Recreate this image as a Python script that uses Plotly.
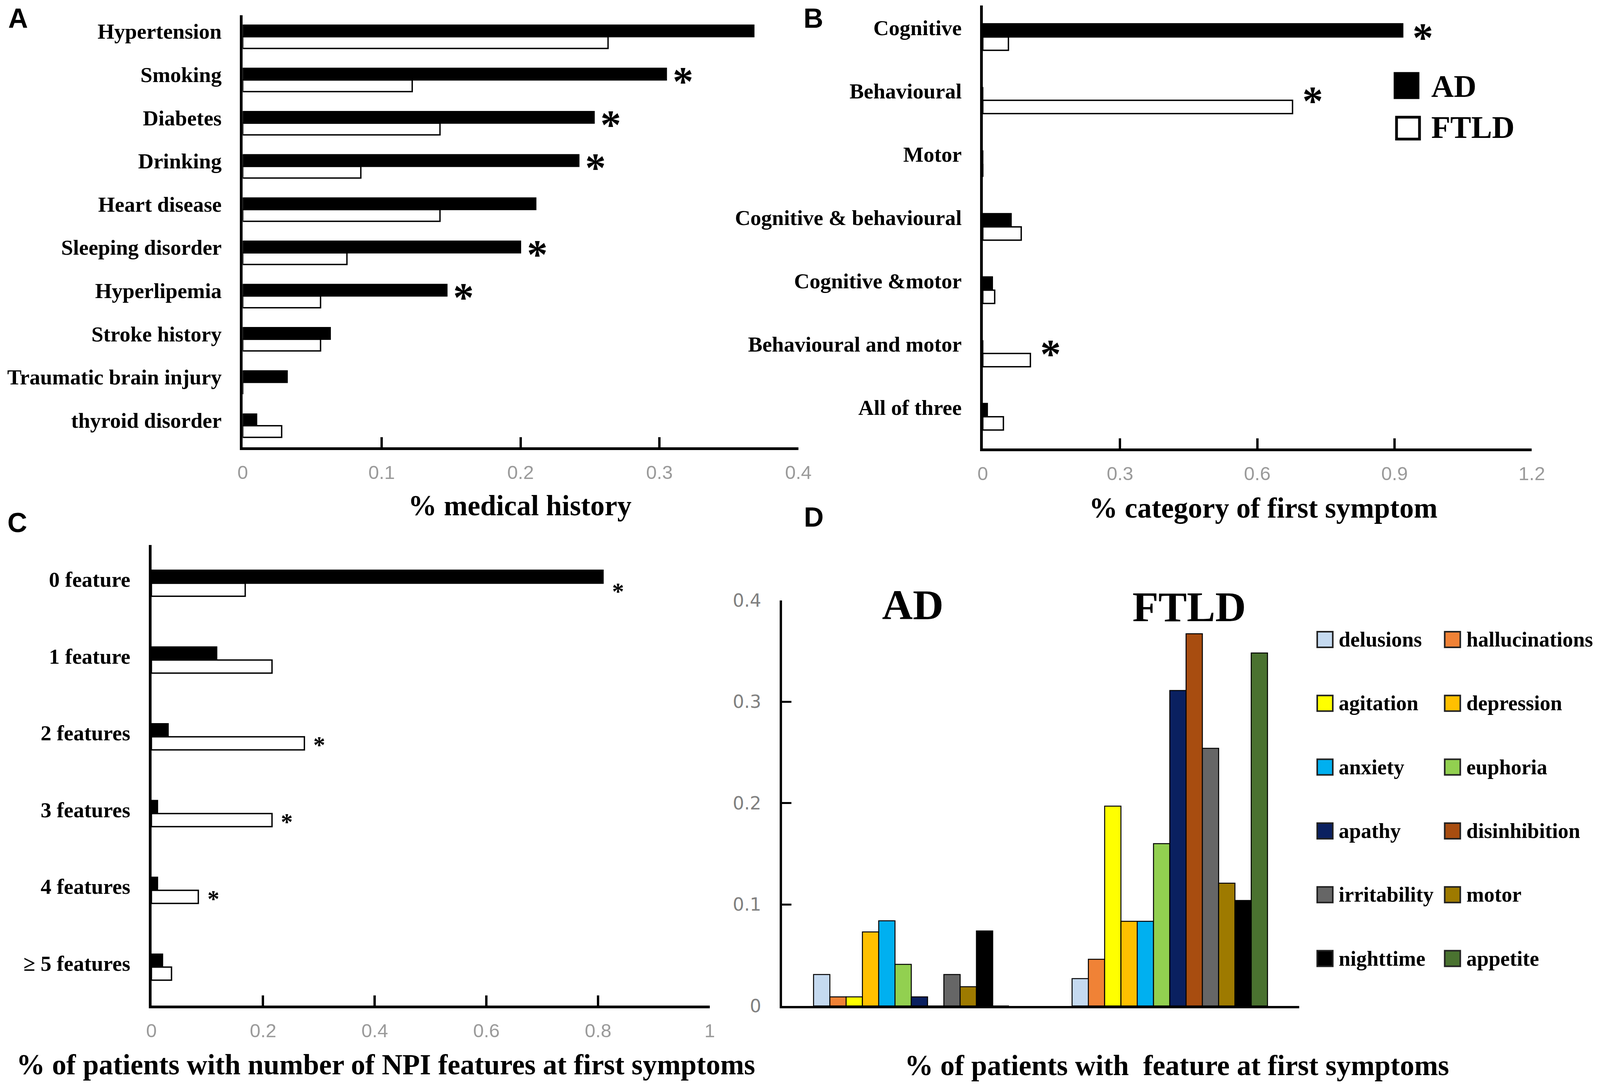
import plotly.graph_objects as go

# --- Data ---
A_CATS = ['Hypertension', 'Smoking', 'Diabetes', 'Drinking', 'Heart disease',
          'Sleeping disorder', 'Hyperlipemia', 'Stroke history',
          'Traumatic brain injury', 'thyroid disorder']
A_AD = [0.368, 0.305, 0.253, 0.242, 0.211, 0.200, 0.147, 0.063, 0.032, 0.010]
A_FTLD = [0.263, 0.122, 0.142, 0.085, 0.142, 0.075, 0.056, 0.056, 0.0, 0.028]
A_SIG = [('Smoking', 'AD'), ('Diabetes', 'AD'), ('Drinking', 'AD'),
         ('Sleeping disorder', 'AD'), ('Hyperlipemia', 'AD')]
A_TICKS = [0, 0.1, 0.2, 0.3, 0.4]

B_CATS = ['Cognitive', 'Behavioural', 'Motor', 'Cognitive & behavioural',
          'Cognitive &motor', 'Behavioural and motor', 'All of three']
B_AD = [0.918, 0.0, 0.0, 0.062, 0.021, 0.0, 0.010]
B_FTLD = [0.056, 0.677, 0.0, 0.084, 0.026, 0.104, 0.045]
B_SIG = [('Cognitive', 'AD'), ('Behavioural', 'FTLD'), ('Behavioural and motor', 'FTLD')]
B_TICKS = [0, 0.3, 0.6, 0.9, 1.2]

C_CATS = ['0 feature', '1 feature', '2 features', '3 features', '4 features', '≥ 5 features']
C_AD = [0.809, 0.117, 0.030, 0.011, 0.011, 0.020]
C_FTLD = [0.168, 0.216, 0.274, 0.216, 0.084, 0.036]
C_SIG = [('0 feature', 'AD'), ('2 features', 'FTLD'), ('3 features', 'FTLD'), ('4 features', 'FTLD')]
C_TICKS = [0, 0.2, 0.4, 0.6, 0.8, 1]

D_GROUPS = ['AD', 'FTLD']
D_SYMPTOMS = ['delusions', 'hallucinations', 'agitation', 'depression', 'anxiety', 'euphoria',
              'apathy', 'disinhibition', 'irritability', 'motor', 'nighttime', 'appetite']
D_AD = [0.031, 0.009, 0.009, 0.073, 0.084, 0.041, 0.009, 0.0, 0.031, 0.019, 0.074, 0.0]
D_FTLD = [0.027, 0.046, 0.197, 0.0835, 0.0835, 0.160, 0.311, 0.367, 0.254, 0.121, 0.104, 0.348]
D_COLORS = ['#C5DAF0', '#F08236', '#FFFF00', '#FFC000', '#00B0F0', '#92D050',
            '#0A2060', '#A84D10', '#666666', '#9E7A00', '#000000', '#4A7230']
D_TICKS = [0, 0.1, 0.2, 0.3, 0.4]

# --- Page geometry ---
# the browser viewport is 4096 px wide, so the layout (measured on the 4317 px
# reference) is squeezed horizontally; the page body keeps its 8 px margin
REF_W = 4317
VIEW_W = 4096
SX = VIEW_W / REF_W
OFF = 8
FW, FH = 4076, 2762
FS = 0.95  # font scale so text widths follow the squeeze

SERIF = 'Liberation Serif, Times New Roman, serif'
SANS = 'Liberation Sans, Arial, sans-serif'
TICK_GRAY = '#9a9a9a'


def px(x):
    return (x * SX - OFF) / FW


def py(y):
    return 1 - (y - OFF) / FH


def fs(size):
    return round(size * FS)


fig = go.Figure()


def add_pair(cats, ad, ftld, xa, ya, bw):
    fig.add_trace(go.Bar(x=ad, y=cats, orientation='h', name='AD', xaxis=xa, yaxis=ya,
                         marker=dict(color='black', line=dict(color='black', width=3)),
                         width=bw, offset=-bw, showlegend=False))
    fig.add_trace(go.Bar(x=ftld, y=cats, orientation='h', name='FTLD', xaxis=xa, yaxis=ya,
                         marker=dict(color='white', line=dict(color='black', width=3.5)),
                         width=bw, offset=0, showlegend=False))


add_pair(A_CATS, A_AD, A_FTLD, 'x', 'y', 0.27)
add_pair(B_CATS, B_AD, B_FTLD, 'x2', 'y2', 0.21)
add_pair(C_CATS, C_AD, C_FTLD, 'x3', 'y3', 0.17)

for name, a, f, col in zip(D_SYMPTOMS, D_AD, D_FTLD, D_COLORS):
    fig.add_trace(go.Bar(x=D_GROUPS, y=[a, f], name=name, xaxis='x4', yaxis='y4',
                         marker=dict(color=col, line=dict(color='black', width=2.5)),
                         showlegend=False))

annotations = []


def add_stars(sig, cats, ad, ftld, xref, yref, size, xshift, yshift):
    for cat, grp in sig:
        i = cats.index(cat)
        val = ad[i] if grp == 'AD' else ftld[i]
        annotations.append(dict(x=val, y=cat, xref=xref, yref=yref, text='*', showarrow=False,
                                xanchor='left', yanchor='middle', xshift=xshift * SX,
                                yshift=yshift,
                                font=dict(family=SERIF, size=fs(size), color='black',
                                          weight='bold')))


add_stars(A_SIG, A_CATS, A_AD, A_FTLD, 'x', 'y', 112, 15, -4)
add_stars(B_SIG, B_CATS, B_AD, B_FTLD, 'x2', 'y2', 112, 24, -2)
add_stars(C_SIG, C_CATS, C_AD, C_FTLD, 'x3', 'y3', 64, 22, -21)

# panel letters
for letter, (lx, ly) in zip('ABCD', [(49, 47), (2195, 47), (47, 1338), (2196, 1324)]):
    annotations.append(dict(x=px(lx), y=py(ly), xref='paper', yref='paper', text=letter,
                            showarrow=False, xanchor='center', yanchor='middle',
                            font=dict(family=SANS, size=fs(74), color='black', weight='bold')))

# axis titles
titles = [('% medical history', 1403, 1294),
          ('% category of first symptom', 3408, 1300),
          ('% of patients with number of NPI features at first symptoms', 1041, 2725),
          ('% of patients with\u00a0 feature at first symptoms', 3176, 2727)]
for txt, tx, ty in titles:
    annotations.append(dict(x=px(tx), y=py(ty), xref='paper', yref='paper', text=txt,
                            showarrow=False, xanchor='center', yanchor='middle',
                            font=dict(family=SERIF, size=fs(77), color='black', weight='bold')))

# group labels in D
for txt, tx, ty in [('AD', 2463, 1548), ('FTLD', 3209, 1553)]:
    annotations.append(dict(x=px(tx), y=py(ty), xref='paper', yref='paper', text=txt,
                            showarrow=False, xanchor='center', yanchor='middle',
                            font=dict(family=SERIF, size=fs(115), color='black', weight='bold')))

shapes = []

# legend of panel B
for txt, fill, (x0, y0, x1, y1), ty in [('AD', 'black', (3764, 188, 3826, 250), 221),
                                        ('FTLD', 'white', (3768, 300, 3830, 356), 326)]:
    shapes.append(dict(type='rect', xref='paper', yref='paper', x0=px(x0), x1=px(x1),
                       y0=py(y1), y1=py(y0), fillcolor=fill, line=dict(color='black', width=7)))
    annotations.append(dict(x=px(3860), y=py(ty), xref='paper', yref='paper', text=txt,
                            showarrow=False, xanchor='left', yanchor='middle',
                            font=dict(family=SERIF, size=fs(84), color='black', weight='bold')))

# legend of panel D (two columns, row-wise order)
LEG_COL_X = [3554, 3898]
LEG_ROW_Y0, LEG_ROW_STEP = 1637, 163.3
for k, (name, col) in enumerate(zip(D_SYMPTOMS, D_COLORS)):
    cx = LEG_COL_X[k % 2]
    cy = LEG_ROW_Y0 + (k // 2) * LEG_ROW_STEP
    shapes.append(dict(type='rect', xref='paper', yref='paper', x0=px(cx), x1=px(cx + 42),
                       y0=py(cy + 20), y1=py(cy - 20), fillcolor=col,
                       line=dict(color='#222222', width=4)))
    annotations.append(dict(x=px(cx + 56), y=py(cy), xref='paper', yref='paper', text=name,
                            showarrow=False, xanchor='left', yanchor='middle',
                            font=dict(family=SERIF, size=fs(57), color='black', weight='bold')))


def value_axis(x0, x1, anchor, rng, ticks):
    return dict(domain=[px(x0), px(x1)], anchor=anchor, range=rng, tickvals=ticks,
                showline=True, linecolor='black', linewidth=7, ticks='inside',
                ticklen=26, tickwidth=6, tickcolor='black', showgrid=False, zeroline=False,
                tickfont=dict(family=SANS, size=fs(52), color=TICK_GRAY), ticklabelstandoff=15)


def cat_axis(y_bottom, y_top, anchor, cats, shift):
    return dict(domain=[py(y_bottom), py(y_top)], anchor=anchor, type='category',
                categoryorder='array', categoryarray=cats, range=[len(cats) - 0.5, -0.5],
                showline=True, linecolor='black', linewidth=7, ticks='', showgrid=False,
                zeroline=False, ticklabelstandoff=round(38 * SX), ticklabelshift=shift,
                tickfont=dict(family=SERIF, size=fs(58), color='black', weight='bold'))


fig.update_layout(
    width=FW, height=FH,
    margin=dict(l=0, r=0, t=0, b=0, autoexpand=False),
    paper_bgcolor='white', plot_bgcolor='white',
    barmode='group', bargap=0.244, bargroupgap=0,
    showlegend=False,
    xaxis=value_axis(655, 2154, 'y', [0, 0.4], A_TICKS),
    yaxis=cat_axis(1145, 38.7, 'x', A_CATS, 14),
    xaxis2=value_axis(2651.7, 4133, 'y2', [0, 1.2], B_TICKS),
    yaxis2=cat_axis(1147.7, 13.8, 'x2', B_CATS, 24),
    xaxis3=value_axis(408.5, 1915, 'y3', [0, 1], C_TICKS),
    yaxis3=cat_axis(2573.8, 1394.7, 'x3', C_CATS, 10),
    xaxis4=dict(domain=[px(2110), px(3505)], anchor='y4', type='category', range=[-0.5, 1.5],
                showline=True, linecolor='black', linewidth=6, ticks='', showticklabels=False,
                showgrid=False, zeroline=False),
    yaxis4=dict(domain=[py(2575), py(1536.5)], anchor='x4', range=[0, 0.4], tickvals=D_TICKS,
                showline=True, linecolor='black', linewidth=6, ticks='inside', ticklen=24,
                tickwidth=5, tickcolor='black', showgrid=False, zeroline=False,
                tickfont=dict(family='DejaVu Sans, sans-serif', size=fs(48), color='#808080'),
                ticklabelstandoff=round(40 * SX)),
    annotations=annotations,
    shapes=shapes,
)

fig.write_html('out.html')
